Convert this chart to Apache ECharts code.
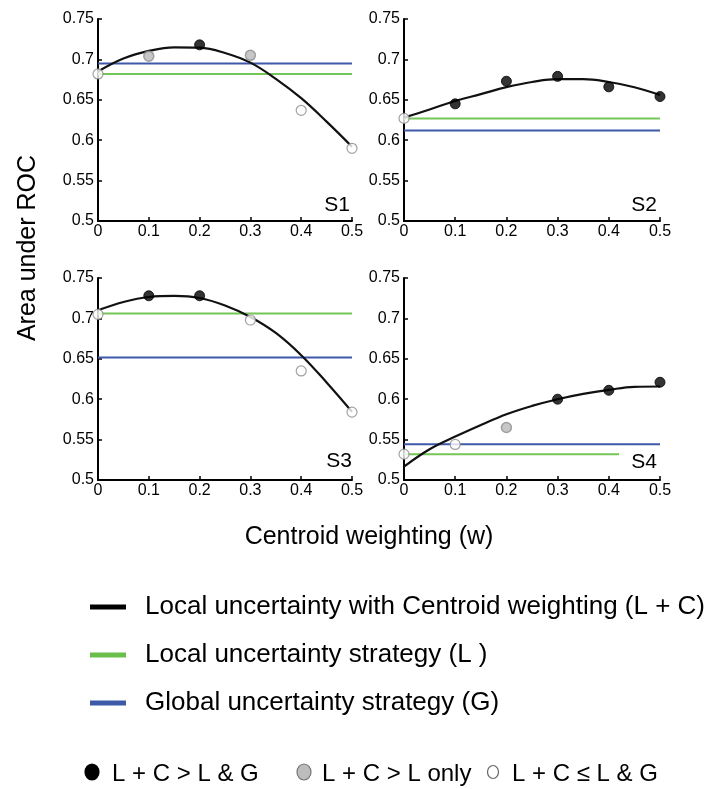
<!DOCTYPE html>
<html>
<head>
<meta charset="utf-8">
<script src="https://cdn.jsdelivr.net/npm/echarts@6/dist/echarts.min.js"></script>
<style>
html,body{margin:0;padding:0;background:#fff;}
#chart{width:718px;height:789px;}
</style>
</head>
<body>
<div id="chart"></div>
<script>
// ---- data ----
var panelNames = ['S1', 'S2', 'S3', 'S4'];
var pointW = [0, 0.1, 0.2, 0.3, 0.4, 0.5];
var pointsS1 = [0.682, 0.704, 0.718, 0.705, 0.637, 0.590];
var pointsS2 = [0.627, 0.645, 0.673, 0.679, 0.666, 0.654];
var pointsS3 = [0.705, 0.728, 0.728, 0.698, 0.635, 0.584];
var pointsS4 = [0.532, 0.544, 0.565, 0.600, 0.611, 0.621];
var classS1 = ['w', 'g', 'b', 'g', 'w', 'w'];
var classS2 = ['w', 'b', 'b', 'b', 'b', 'b'];
var classS3 = ['w', 'b', 'b', 'w', 'w', 'w'];
var classS4 = ['w', 'w', 'g', 'b', 'b', 'b'];
var curveW = [0, 0.05, 0.1, 0.15, 0.2, 0.25, 0.3, 0.35, 0.4, 0.45, 0.5];
var curveS1 = [0.685, 0.701, 0.7105, 0.715, 0.7145, 0.708, 0.696, 0.676, 0.652, 0.623, 0.592];
var curveS2 = [0.628, 0.638, 0.6486, 0.657, 0.6656, 0.672, 0.6755, 0.6755, 0.672, 0.6656, 0.656];
var curveS3 = [0.710, 0.7203, 0.7265, 0.7278, 0.7253, 0.716, 0.7018, 0.682, 0.6545, 0.6207, 0.5844];
var curveS4 = [0.5165, 0.538, 0.5537, 0.568, 0.5814, 0.5917, 0.600, 0.6066, 0.6116, 0.6153, 0.6157];
var localLevel = [0.682, 0.627, 0.706, 0.532];   // L (green)
var localEnd = [0.5, 0.5, 0.5, 0.42];
var globalLevel = [0.695, 0.612, 0.6516, 0.5442]; // G (blue)
var globalEnd = [0.5, 0.5, 0.5, 0.5];
var xTickLabels = ['0', '0.1', '0.2', '0.3', '0.4', '0.5'];
var yTickLabels = ['0.5', '0.55', '0.6', '0.65', '0.7', '0.75'];
var legendLines = ['Local uncertainty with Centroid weighting (L + C)', 'Local uncertainty strategy (L )', 'Global uncertainty strategy (G)'];
var legendMarks = ['L + C > L & G', 'L + C > L only', 'L + C \u2264 L & G'];

var points = [pointsS1, pointsS2, pointsS3, pointsS4];
var classes = [classS1, classS2, classS3, classS4];
var curves = [curveS1, curveS2, curveS3, curveS4];

// ---- styles ----
var FONT = '"Liberation Sans", Arial, Helvetica, sans-serif';
var BLACK = '#000000', GREEN = '#74c657', BLUE = '#3f58aa';
var markStyle = {
  b: {color: '#000', borderColor: '#000', borderWidth: 1},
  g: {color: '#b9b9b9', borderColor: '#8e8e8e', borderWidth: 1.5},
  w: {color: '#fff', borderColor: '#8a8a8a', borderWidth: 1.2}
};
var grids = [
  {left: 98, top: 19, width: 254, height: 202},
  {left: 404, top: 19, width: 256, height: 202},
  {left: 98, top: 278, width: 254, height: 202},
  {left: 404, top: 278, width: 256, height: 202}
];

var xAxes = [], yAxes = [], series = [], graphics = [];
for (var i = 0; i < 4; i++) {
  xAxes.push({
    type: 'value', gridIndex: i, min: 0, max: 0.5, interval: 0.1,
    axisLine: {show: true, lineStyle: {color: '#000', width: 2}},
    axisTick: {show: true, inside: true, length: 4, lineStyle: {color: '#000', width: 1.5}},
    splitLine: {show: false},
    axisLabel: {color: '#000', fontFamily: FONT, fontSize: 16, margin: 3,
      formatter: function (v) { return xTickLabels[Math.round(v / 0.1)]; }}
  });
  yAxes.push({
    type: 'value', gridIndex: i, min: 0.5, max: 0.75, interval: 0.05,
    axisLine: {show: true, lineStyle: {color: '#000', width: 2}},
    axisTick: {show: true, inside: true, length: 4, lineStyle: {color: '#000', width: 1.5}},
    splitLine: {show: false},
    axisLabel: {color: '#000', fontFamily: FONT, fontSize: 16, margin: 4,
      formatter: function (v) { return yTickLabels[Math.round((v - 0.5) / 0.05)]; }}
  });
  series.push({
    type: 'line', xAxisIndex: i, yAxisIndex: i, symbol: 'none', silent: true,
    lineStyle: {color: GREEN, width: 2},
    data: [[0, localLevel[i]], [localEnd[i], localLevel[i]]], z: 2
  });
  series.push({
    type: 'line', xAxisIndex: i, yAxisIndex: i, symbol: 'none', silent: true,
    lineStyle: {color: BLUE, width: 2},
    data: [[0, globalLevel[i]], [globalEnd[i], globalLevel[i]]], z: 2
  });
  series.push({
    type: 'line', xAxisIndex: i, yAxisIndex: i, symbol: 'none', silent: true, smooth: 0.4,
    lineStyle: {color: '#111', width: 2.2},
    data: curveW.map(function (w, k) { return [w, curves[i][k]]; }), z: 3
  });
  (function (idx) {
    series.push({
      type: 'scatter', xAxisIndex: idx, yAxisIndex: idx, symbol: 'circle', symbolSize: 10, silent: true,
      data: pointW.map(function (w, k) {
        return {value: [w, points[idx][k]], itemStyle: markStyle[classes[idx][k]]};
      }), z: 5
    });
  })(i);
}

// panel labels
var labelPos = [[350, 205], [657, 205], [352, 461], [657, 462]];
for (var j = 0; j < 4; j++) {
  graphics.push({type: 'text', x: labelPos[j][0], y: labelPos[j][1], z: 10,
    style: {text: panelNames[j], fill: '#000', font: '21px ' + FONT, textAlign: 'right', textVerticalAlign: 'middle'}});
}
// axis names
graphics.push({type: 'text', x: 28, y: 248, rotation: Math.PI / 2,
  style: {text: 'Area under ROC', fill: '#000', font: '25px ' + FONT, textAlign: 'center', textVerticalAlign: 'middle'}});
graphics.push({type: 'text', x: 369, y: 537,
  style: {text: 'Centroid weighting (w)', fill: '#000', font: '25px ' + FONT, textAlign: 'center', textVerticalAlign: 'middle'}});

// line legend
var legColors = [BLACK, '#6abf4b', '#3c5aa8'];
var legY = [607, 655, 703];
for (var m = 0; m < 3; m++) {
  graphics.push({type: 'rect', shape: {x: 90, y: legY[m] - 2.5, width: 36, height: 5}, style: {fill: legColors[m]}});
  graphics.push({type: 'text', x: 145, y: legY[m],
    style: {text: legendLines[m], fill: '#000', font: '26px ' + FONT, textAlign: 'left', textVerticalAlign: 'middle'}});
}
// marker legend
var mkX = [92, 304, 493], mkR = [7, 7, 5.5], txtX = [112, 322, 512];
var mkFill = ['#000', '#bdbdbd', '#fff'], mkStroke = ['#000', '#777', '#666'];
for (var n = 0; n < 3; n++) {
  graphics.push({type: 'ellipse', shape: {cx: mkX[n], cy: 772, rx: mkR[n], ry: mkR[n] + 1},
    style: {fill: mkFill[n], stroke: mkStroke[n], lineWidth: 1.2}});
  graphics.push({type: 'text', x: txtX[n], y: 774,
    style: {text: legendMarks[n], fill: '#000', font: '24px ' + FONT, textAlign: 'left', textVerticalAlign: 'middle'}});
}

var chart = echarts.init(document.getElementById('chart'), null, {renderer: 'canvas'});
chart.setOption({
  backgroundColor: '#fff',
  animation: false,
  grid: grids,
  xAxis: xAxes,
  yAxis: yAxes,
  series: series,
  graphic: graphics
});
</script>
</body>
</html>
